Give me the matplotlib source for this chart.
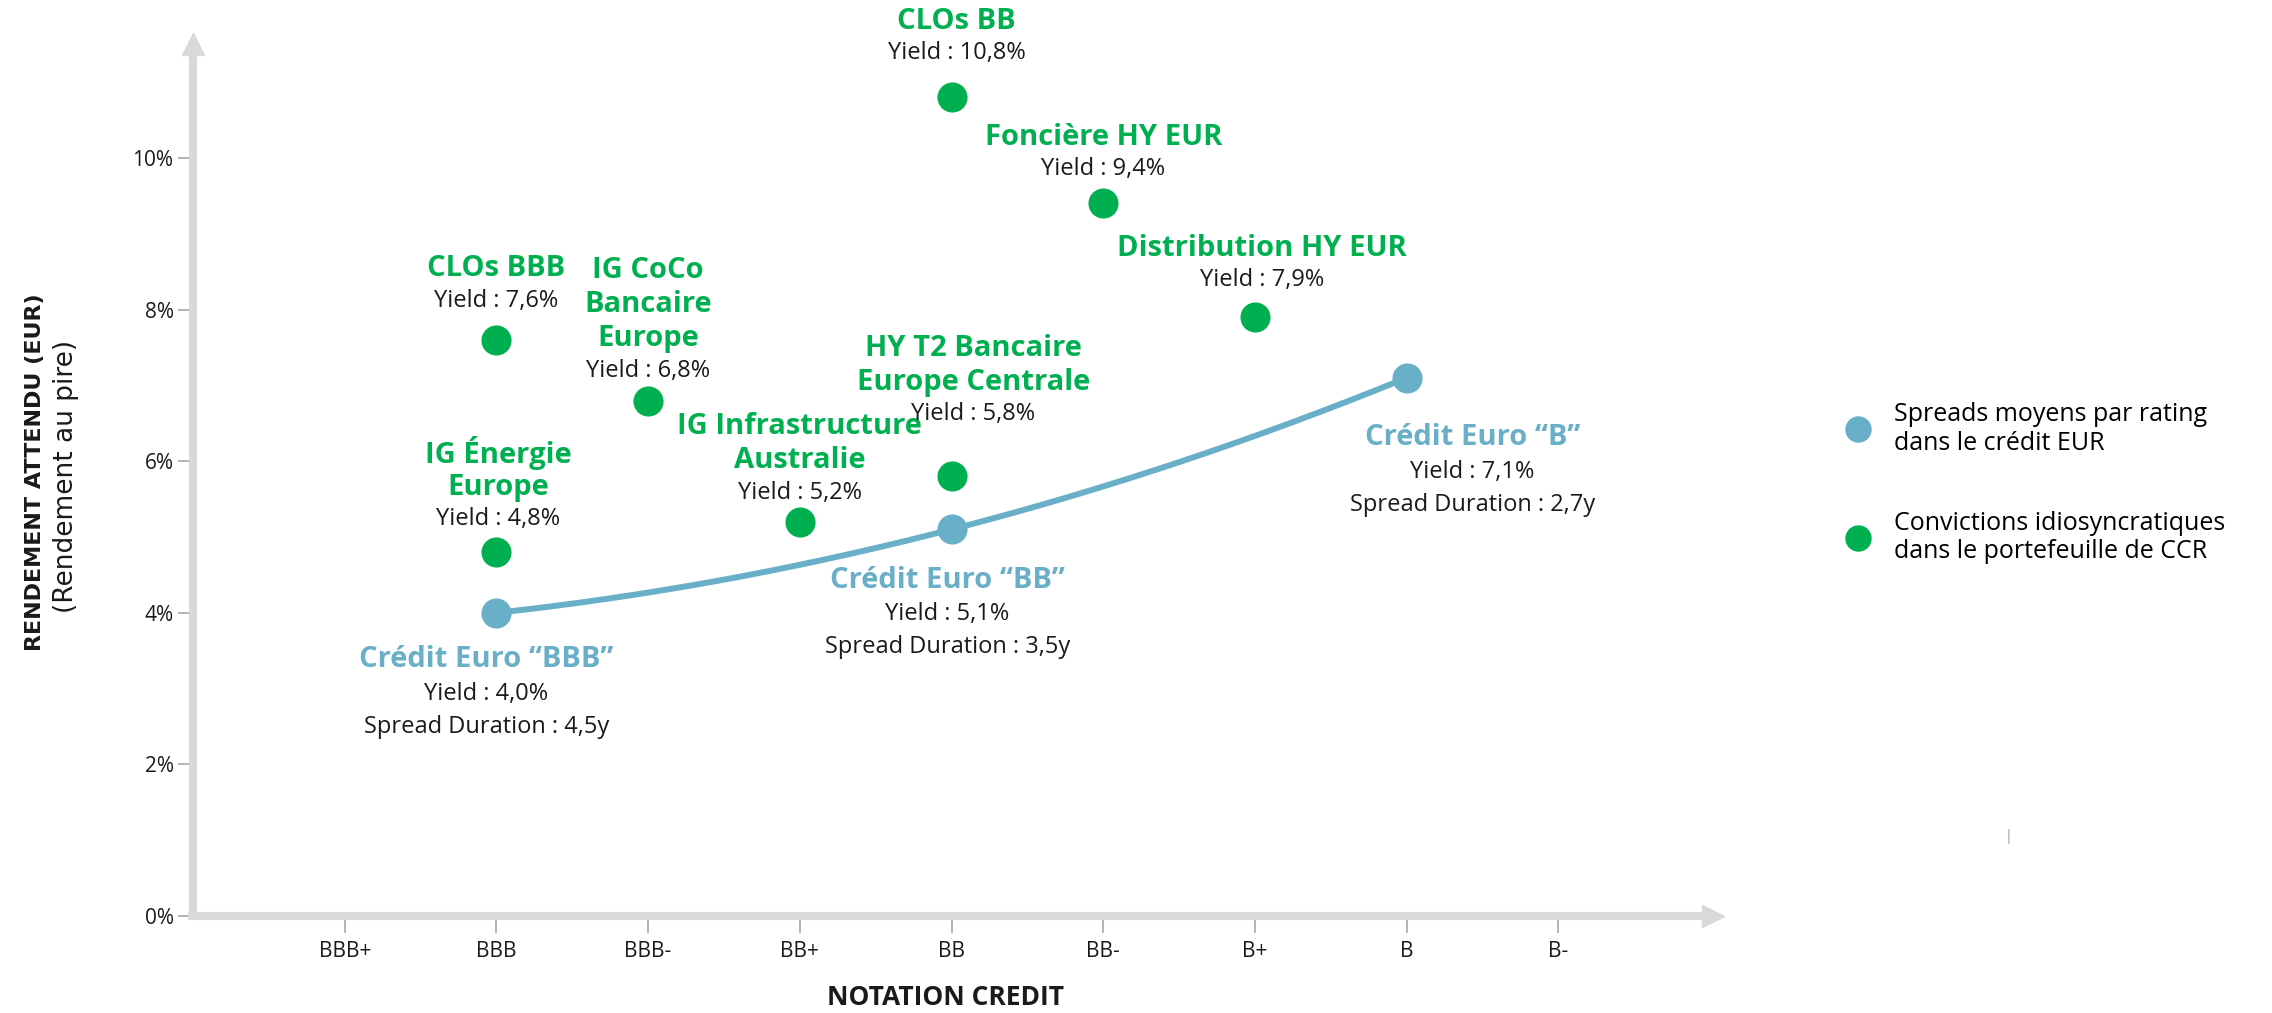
import numpy as np
import matplotlib
matplotlib.use('Agg')
import matplotlib.pyplot as plt
from matplotlib.lines import Line2D

plt.rcParams['font.family'] = ['Open Sans', 'DejaVu Sans']

# axe des notations
ratings = ['BBB+', 'BBB', 'BBB-', 'BB+', 'BB', 'BB-', 'B+', 'B', 'B-']
y_ticks = [0, 2, 4, 6, 8, 10]

# spreads moyens par rating (courbe bleue)
avg_names = ['Crédit Euro “BBB”', 'Crédit Euro “BB”', 'Crédit Euro “B”']
avg_ratings = ['BBB', 'BB', 'B']
avg_yields = [4.0, 5.1, 7.1]
avg_duration = ['4,5y', '3,5y', '2,7y']

# convictions idiosyncratiques (points verts)
conv_names = ['CLOs BBB', 'IG CoCo\nBancaire\nEurope', 'IG Énergie\nEurope',
              'IG Infrastructure\nAustralie', 'HY T2 Bancaire\nEurope Centrale',
              'CLOs BB', 'Foncière HY EUR', 'Distribution HY EUR']
conv_ratings = ['BBB', 'BBB-', 'BBB', 'BB+', 'BB', 'BB', 'BB-', 'B+']
conv_yields = [7.6, 6.8, 4.8, 5.2, 5.8, 10.8, 9.4, 7.9]

GREEN = '#00B050'
BLUE = '#68AFC7'
GREY = '#D9D9D9'
TXT = '#1A1A1A'

# label offsets in pixels (dx, dy of the yield line above the dot)
conv_off = [(0, 39), (0, 30), (2, 33), (0, 29), (22, 62), (5, 44), (0, 34), (7, 37)]
# (dx, dy of the title line below the dot)
avg_off = [(-10, -47), (-4, -51), (66, -60)]

W, H = 2272, 1013
fig = plt.figure(figsize=(W / 100, H / 100), dpi=100)
ax = fig.add_axes([150 / W, (H - 945) / H, (1760 - 150) / W, (945 - 20) / H])
# pixel layout: rating i at 193 + 151.7*i, yield v at 916 - 75.8*v
ax.set_xlim((150 - 193) / 151.7, (1760 - 193) / 151.7)
ax.set_ylim((916 - 945) / 75.8, (916 - 20) / 75.8)

pos = {r: i + 1 for i, r in enumerate(ratings)}

# axes with arrows
for s in ['top', 'right']:
    ax.spines[s].set_visible(False)
ax.spines['left'].set_position(('data', 0))
ax.spines['bottom'].set_position(('data', 0))
ax.spines['left'].set_bounds(-0.05, 11.4)
ax.spines['bottom'].set_bounds(-0.03, 9.95)
for s in ['left', 'bottom']:
    ax.spines[s].set_linewidth(5.8)
    ax.spines[s].set_color(GREY)
    ax.spines[s].set_capstyle('butt')
ax.plot(0, 11.51, marker='^', ms=16, color=GREY, clip_on=False)
ax.plot(10.02, 0, marker='>', ms=16, color=GREY, clip_on=False)

ax.set_yticks(y_ticks)
ax.set_yticklabels([f'{v}%' for v in y_ticks])
ax.set_xticks(range(1, len(ratings) + 1))
ax.set_xticklabels(ratings)
ax.tick_params(axis='both', colors='#A6A6A6', labelcolor=TXT, labelsize=15, width=1.2)
ax.tick_params(axis='y', length=11, pad=3)
ax.tick_params(axis='x', length=12, pad=6)

# blue curve
ax_x = np.array([pos[r] for r in avg_ratings], dtype=float)
coef = np.polyfit(ax_x, avg_yields, 2)
xs = np.linspace(ax_x[0], ax_x[-1], 200)
ax.plot(xs, np.polyval(coef, xs), color=BLUE, lw=4.3, solid_capstyle='round', zorder=2)
ax.scatter(ax_x, avg_yields, s=470, color=BLUE, zorder=3, linewidths=0)

for name, x, y, d, (dx, dy) in zip(avg_names, ax_x, avg_yields, avg_duration, avg_off):
    ax.annotate(name, (x, y), xytext=(dx, dy), textcoords='offset pixels',
                ha='center', va='center', fontsize=21, fontweight='bold', color=BLUE)
    ax.annotate(f'Yield : {y:.1f}%'.replace('.', ','), (x, y), xytext=(dx, dy - 34),
                textcoords='offset pixels', ha='center', va='center', fontsize=17, color=TXT)
    ax.annotate(f'Spread Duration : {d}', (x, y), xytext=(dx, dy - 67),
                textcoords='offset pixels', ha='center', va='center', fontsize=17, color=TXT)

# green points
cx = [pos[r] for r in conv_ratings]
ax.scatter(cx, conv_yields, s=470, color=GREEN, zorder=3, linewidths=0)
for name, x, y, (dx, dy) in zip(conv_names, cx, conv_yields, conv_off):
    ax.annotate(f'Yield : {y:.1f}%'.replace('.', ','), (x, y), xytext=(dx, dy),
                textcoords='offset pixels', ha='center', va='center', fontsize=17, color=TXT)
    lines = name.split('\n')
    for k, ln in enumerate(reversed(lines)):
        ax.annotate(ln, (x, y), xytext=(dx, dy + 32 + 34 * k), textcoords='offset pixels',
                    ha='center', va='center', fontsize=21, fontweight='bold', color=GREEN)

# axis titles
fig.text(946 / W, 1 - 997 / H, 'NOTATION CREDIT', ha='center', va='center',
         fontsize=19, fontweight='bold', color=TXT)
fig.text(35 / W, 1 - 472 / H, 'RENDEMENT ATTENDU (EUR)', rotation=90, ha='center', va='center',
         fontsize=16, fontweight='bold', color=TXT, family='DejaVu Sans')
fig.text(66 / W, 1 - 476 / H, '(Rendement au pire)', rotation=90, ha='center', va='center',
         fontsize=19, color=TXT, family='DejaVu Sans')

# legend
handles = [Line2D([], [], ls='none', marker='o', ms=18, color=BLUE),
           Line2D([], [], ls='none', marker='o', ms=18, color=GREEN)]
labels = ['Spreads moyens par rating\ndans le crédit EUR',
          'Convictions idiosyncratiques\ndans le portefeuille de CCR']
fig.legend(handles, labels, loc='center left', bbox_to_anchor=(1845 / W, 1 - 483 / H),
           frameon=False, fontsize=18, handlelength=1, handletextpad=0.95,
           labelspacing=2.2, borderpad=0, borderaxespad=0)

fig.text(2008 / W, 1 - 836 / H, '|', ha='center', va='center', fontsize=10, color='#999999')

fig.savefig('out.png', dpi=100)
